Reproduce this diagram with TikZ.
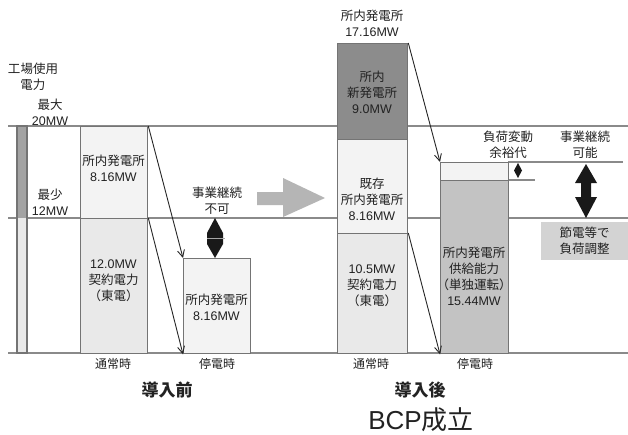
\documentclass[tikz,border=0pt]{standalone}
\usepackage{fontspec}
\setmainfont{Noto Sans CJK JP}
\newfontfamily\lat{Liberation Sans}
\usetikzlibrary{arrows.meta}
\definecolor{gridc}{HTML}{8A8A8A}
\definecolor{bordc}{HTML}{747474}
\definecolor{txtc}{HTML}{222222}
\definecolor{fa}{HTML}{F3F3F3}
\definecolor{fb}{HTML}{E9E9E9}
\definecolor{fdark}{HTML}{8C8C8C}
\definecolor{fmid}{HTML}{C3C3C3}
\definecolor{farrow}{HTML}{B5B5B5}
\definecolor{fnote}{HTML}{D3D3D3}
\tikzset{
  gridline/.style={draw=gridc, line width=1.4pt},
  blk/.style={draw=bordc, line width=1.3pt, inner sep=0pt, anchor=north west, rectangle},
  lbl/.style={text=txtc, align=center, inner sep=0pt, font=\fontsize{12.5}{16}\selectfont},
  small/.style={text=txtc, align=center, inner sep=0pt, font=\fontsize{12}{15}\selectfont},
  flow/.style={draw=black!85, line width=0.9pt, -{Straight Barb[length=7pt,width=7pt,line width=0.9pt]}},
}
\begin{document}
\begin{tikzpicture}[x=1pt,y=-1pt]
\path[use as bounding box, fill=white] (0,0) rectangle (628,434);
% grid lines
\draw[gridline] (8,126) -- (628,126);
\draw[gridline] (8,218) -- (628,218);
\draw[gridline] (8,353) -- (628,353);
% left bar
\path[fill=fdark!80] (17,126) rectangle (27,218);
\path[fill=fb] (17,218) rectangle (27,353);
\draw[draw=bordc, line width=1.1pt] (17,126) rectangle (27,353);
% before: normal
\node[blk, fill=fa, minimum width=67pt, minimum height=92pt] (b1u) at (80,126) {};
\node[blk, fill=fb, minimum width=67pt, minimum height=135pt] (b1l) at (80,218) {};
% before: outage
\node[blk, fill=fa, minimum width=67pt, minimum height=95pt] (b2) at (183,258) {};
% after: normal
\node[blk, fill=fdark, minimum width=70pt, minimum height=96pt] (b3a) at (337,43) {};
\node[blk, fill=fa, minimum width=70pt, minimum height=94pt] (b3b) at (337,139) {};
\node[blk, fill=fb, minimum width=70pt, minimum height=120pt] (b3c) at (337,233) {};
% after: outage
\draw[gridline] (508,162) -- (623,162);
\draw[gridline] (508,180) -- (535,180);
\node[blk, fill=fa, minimum width=68pt, minimum height=18pt] (b4a) at (440,162) {};
\node[blk, fill=fmid, minimum width=68pt, minimum height=173pt] (b4b) at (440,180) {};
% note box
\node[anchor=north west, fill=fnote, minimum width=87pt, minimum height=38pt, inner sep=0pt] (note) at (541,222) {};
% flows
\draw[flow] (b1u.north east) -- (b2.north west);
\draw[flow] (b1l.north east) -- (b2.south west);
\draw[flow] (b3a.north east) -- (b4a.north west);
\draw[flow] (b3c.north east) -- (b4b.south west);
% big gray arrow
\path[fill=farrow] (257,192) -- (283,192) -- (283,178) -- (325,198) -- (283,217) -- (283,205) -- (257,205) -- cycle;
% diamonds
\path[fill=black!90] (215,218) -- (223,233) -- (223,244) -- (215,258) -- (207,244) -- (207,233) -- cycle;
\draw[draw=gray!70, line width=0.9pt] (207,238.5) -- (225,238.5);
\path[fill=black!90] (518,163) -- (522,170.5) -- (518,178) -- (514,170.5) -- cycle;
\path[fill=black!90] (586,164) -- (597,183) -- (591,183) -- (591,197) -- (597,197) -- (586,218) -- (575,197) -- (581,197) -- (581,183) -- (575,183) -- cycle;
% texts
\node[lbl] (t1) at (33,77) {工場使用\\電力};
\node[lbl] (t2) at (50,112) {最大\\{\lat 20MW}};
\node[lbl] (t3) at (50,202) {最少\\{\lat 12MW}};
\node[lbl] (t4) at (113.5,168) {所内発電所\\{\lat 8.16MW}};
\node[lbl] (t5) at (113.5,281) {{\lat 12.0MW}\\契約電力\\（東電）};
\node[lbl] (t6) at (216.5,307) {所内発電所\\{\lat 8.16MW}};
\node[lbl] (t7) at (217,201) {事業継続\\不可};
\node[lbl] (t8) at (372,23) {所内発電所\\{\lat 17.16MW}};
\node[lbl] (t9) at (372,92) {所内\\新発電所\\{\lat 9.0MW}};
\node[lbl] (t10) at (372,199) {既存\\所内発電所\\{\lat 8.16MW}};
\node[lbl] (t11) at (372,286) {{\lat 10.5MW}\\契約電力\\（東電）};
\node[lbl] (t12) at (474,276) {所内発電所\\供給能力\\（単独運転）\\{\lat 15.44MW}};
\node[lbl] (t13) at (508,145) {負荷変動\\余裕代};
\node[lbl] (t14) at (585,145) {事業継続\\可能};
\node[lbl] (t15) at (note.center) {節電等で\\負荷調整};
\node[small] (t16) at (113,364) {通常時};
\node[small] (t17) at (217,364) {停電時};
\node[small] (t18) at (371,364) {通常時};
\node[small] (t19) at (475,364) {停電時};
\node[text=txtc, inner sep=0pt, font=\fontsize{17}{20}\selectfont\bfseries] (t20) at (167,390) {導入前};
\node[text=txtc, inner sep=0pt, font=\fontsize{17}{20}\selectfont\bfseries] (t21) at (420,390) {導入後};
\node[text=txtc, inner sep=0pt, font=\fontsize{26}{30}\selectfont] (t22) at (421,420) {{\lat BCP}成立};
\end{tikzpicture}
\end{document}
